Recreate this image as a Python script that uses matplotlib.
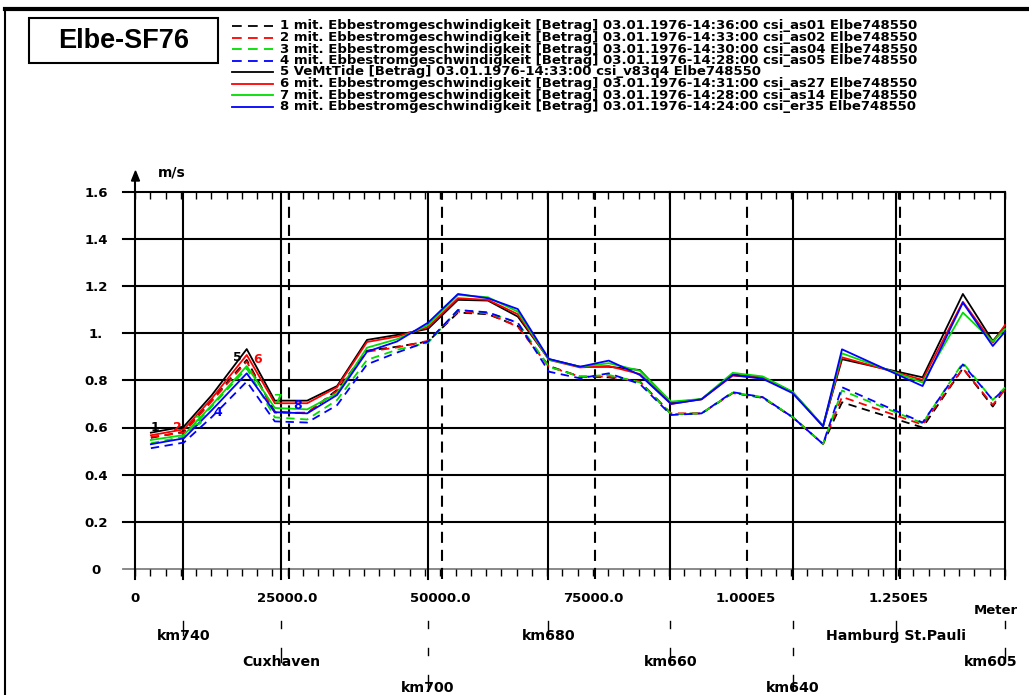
import numpy as np
import matplotlib
matplotlib.use("Agg")
import matplotlib.pyplot as plt
import matplotlib.transforms as mtransforms
from matplotlib.lines import Line2D
from matplotlib.patches import Rectangle, Polygon

plt.rcParams["font.family"] = ["DejaVu Sans"]
plt.rcParams["font.weight"] = "bold"
plt.rcParams["lines.scale_dashes"] = False

# Stationen entlang der Elbe (Meter)
x_m = [2600, 8000, 12600, 18300, 22900, 28200, 33100, 38000, 42900, 48000,
       52900, 57800, 62700, 67800, 72900, 77600, 82700, 87800, 92800, 97900,
       102800, 107700, 112700, 115800, 129000, 135600, 140500, 142500]

# Ebbestromgeschwindigkeit [m/s]
s1 = [0.556, 0.582, 0.717, 0.887, 0.667, 0.660, 0.760, 0.926, 0.943, 0.965,
      1.088, 1.081, 1.031, 0.861, 0.816, 0.813, 0.795, 0.657, 0.660, 0.747,
      0.726, 0.644, 0.530, 0.707, 0.600, 0.851, 0.689, 0.765]
s2 = [0.560, 0.578, 0.712, 0.880, 0.663, 0.663, 0.755, 0.922, 0.940, 0.968,
      1.092, 1.084, 1.028, 0.858, 0.816, 0.816, 0.795, 0.660, 0.660, 0.746,
      0.728, 0.644, 0.530, 0.730, 0.612, 0.851, 0.696, 0.762]
s3 = [0.533, 0.561, 0.690, 0.851, 0.643, 0.634, 0.717, 0.887, 0.930, 0.960,
      1.099, 1.087, 1.045, 0.858, 0.816, 0.823, 0.792, 0.657, 0.660, 0.748,
      0.729, 0.645, 0.530, 0.757, 0.618, 0.875, 0.717, 0.770]
s4 = [0.512, 0.536, 0.645, 0.795, 0.626, 0.621, 0.695, 0.868, 0.918, 0.965,
      1.099, 1.089, 1.045, 0.837, 0.809, 0.830, 0.785, 0.653, 0.660, 0.750,
      0.729, 0.644, 0.530, 0.771, 0.621, 0.868, 0.717, 0.765]
s5 = [0.578, 0.604, 0.738, 0.933, 0.714, 0.714, 0.776, 0.972, 0.993, 1.019,
      1.142, 1.139, 1.071, 0.890, 0.858, 0.858, 0.844, 0.706, 0.720, 0.825,
      0.814, 0.750, 0.606, 0.890, 0.813, 1.167, 0.967, 1.030]
s6 = [0.567, 0.592, 0.724, 0.908, 0.703, 0.703, 0.771, 0.963, 0.986, 1.026,
      1.149, 1.142, 1.081, 0.887, 0.855, 0.861, 0.827, 0.700, 0.720, 0.820,
      0.811, 0.750, 0.606, 0.898, 0.802, 1.134, 0.960, 1.035]
s7 = [0.547, 0.568, 0.696, 0.861, 0.683, 0.677, 0.745, 0.939, 0.975, 1.035,
      1.163, 1.153, 1.092, 0.888, 0.858, 0.873, 0.841, 0.710, 0.721, 0.832,
      0.817, 0.752, 0.607, 0.915, 0.791, 1.088, 0.965, 1.018]
s8 = [0.529, 0.554, 0.674, 0.830, 0.665, 0.660, 0.738, 0.922, 0.965, 1.045,
      1.167, 1.149, 1.103, 0.891, 0.858, 0.884, 0.823, 0.700, 0.720, 0.823,
      0.807, 0.746, 0.605, 0.932, 0.776, 1.130, 0.946, 1.007]
series = [s1, s2, s3, s4, s5, s6, s7, s8]

labels = [
    "1 mit. Ebbestromgeschwindigkeit [Betrag] 03.01.1976-14:36:00 csi_as01 Elbe748550",
    "2 mit. Ebbestromgeschwindigkeit [Betrag] 03.01.1976-14:33:00 csi_as02 Elbe748550",
    "3 mit. Ebbestromgeschwindigkeit [Betrag] 03.01.1976-14:30:00 csi_as04 Elbe748550",
    "4 mit. Ebbestromgeschwindigkeit [Betrag] 03.01.1976-14:28:00 csi_as05 Elbe748550",
    "5 VeMtTide [Betrag] 03.01.1976-14:33:00 csi_v83q4 Elbe748550",
    "6 mit. Ebbestromgeschwindigkeit [Betrag] 03.01.1976-14:31:00 csi_as27 Elbe748550",
    "7 mit. Ebbestromgeschwindigkeit [Betrag] 03.01.1976-14:28:00 csi_as14 Elbe748550",
    "8 mit. Ebbestromgeschwindigkeit [Betrag] 03.01.1976-14:24:00 csi_er35 Elbe748550",
]
colors = ["black", "red", "#00dd00", "blue", "black", "red", "#00dd00", "blue"]
dashed = [True, True, True, True, False, False, False, False]

# Kennzahlen an den Kurven
num_x = [3300, 6900, 10200, 13600, 16700, 20100, 23400, 26700]
num_y = [0.602, 0.602, 0.624, 0.662, 0.899, 0.890, 0.721, 0.692]

# Orte / Flusskilometer
loc_names = ["km740", "Cuxhaven", "km700", "km680", "km660", "km640",
             "Hamburg St.Pauli", "km605"]
loc_x = [7900, 23900, 48000, 67700, 87700, 107700, 124700, 142500]
loc_row = [1, 2, 3, 1, 2, 3, 1, 2]

xt = [0, 25000, 50000, 75000, 100000, 125000]
xt_labels = ["0", "25000.0", "50000.0", "75000.0", "1.000E5", "1.250E5"]
yt = [0, 0.2, 0.4, 0.6, 0.8, 1.0, 1.2, 1.4, 1.6]
yt_labels = ["0", "0.2", "0.4", "0.6", "0.8", "1.", "1.2", "1.4", "1.6"]

W, H = 1029, 695
fig = plt.figure(figsize=(W / 100, H / 100), dpi=100)


def fx(px):
    return px / W


def fy(py):
    return 1 - py / H


x0, x1, ytop, ybot = 135, 1005, 192, 568.8
ax = fig.add_axes([fx(x0), fy(ybot), (x1 - x0) / W, (ybot - ytop) / H])
ax.set_xlim(0, 142500)
ax.set_ylim(0, 1.6)
for sp in ax.spines.values():
    sp.set_visible(False)
ax.patch.set_visible(False)

aw, ah = x1 - x0, ybot - ytop
left_ext = -12 / aw
below = -10 / ah

# Gitter
for y in yt[1:]:
    ax.axhline(y, xmin=left_ext, xmax=1.0, color="black", lw=1.5,
               clip_on=False, zorder=1)
ax.axhline(0, xmin=left_ext, xmax=1.0, color="#808080", lw=1.3,
           clip_on=False, zorder=1)
for x in loc_x:
    ax.axvline(x, ymin=below, ymax=1, color="black", lw=1.5,
               clip_on=False, zorder=1)
for x in xt[1:]:
    ax.axvline(x + 300, ymin=below, ymax=1, color="black", lw=1.5,
               ls=(0, (8, 5)), clip_on=False, zorder=1)

# y-Achse mit Pfeil
ax.axvline(0, ymin=below, ymax=1 + (ytop - 181) / ah, color="black", lw=1.5,
           clip_on=False)
fig.add_artist(Polygon([[fx(135.5), fy(171)], [fx(131.5), fy(181)],
                        [fx(139.5), fy(181)]], closed=True,
                       transform=fig.transFigure, color="black"))
fig.text(fx(158), fy(173), "m/s", fontsize=10, ha="left", va="center")

# Ticks
ax.set_xticks(xt, xt_labels)
ax.set_xticks(np.arange(0, 142501, 2500), minor=True)
ax.tick_params(axis="x", which="both", direction="out", length=5, width=1,
               labelsize=9.5, pad=12)
sec = ax.secondary_xaxis("top")
sec.set_xticks(np.arange(0, 142501, 2500), [""] * 58)
sec.tick_params(axis="x", direction="in", length=5, width=1)
sec.spines["top"].set_visible(False)
ax.set_yticks(yt, yt_labels)
ax.tick_params(axis="y", length=0, pad=28, labelsize=9.5)
for lab in ax.get_yticklabels():
    lab.set_ha("center")

# Kurven
for vals, c, d in zip(series, colors, dashed):
    ax.plot(x_m, vals, color=c, lw=1.3, ls=(0, (6, 4)) if d else "-",
            clip_on=False, zorder=3)
for i in range(8):
    ax.text(num_x[i], num_y[i], str(i + 1), color=colors[i], fontsize=9,
            ha="center", va="center", zorder=4)

# Ortsangaben
trans_xf = mtransforms.blended_transform_factory(ax.transData, fig.transFigure)
for name, x, r in zip(loc_names, loc_x, loc_row):
    for k in range(r):
        ya = 621 + 27 * k
        yb = ya + (14 if k == r - 1 else 7)
        ax.plot([x, x], [fy(ya), fy(yb)], color="black", lw=1,
                transform=trans_xf, clip_on=False)
    dx = -10 if name == "km605" else 0
    ax.annotate(name, xy=(x, fy(636 + 26 * (r - 1))),
                xycoords=("data", "figure fraction"),
                xytext=(dx, 0), textcoords="offset points",
                ha="center", va="center", fontsize=10.2, annotation_clip=False)
fig.text(fx(1018), fy(610), "Meter", fontsize=9.5, ha="right", va="center")

# Titel und Legende
fig.add_artist(Rectangle((fx(29), fy(62.7)), (218 - 29) / W, (62.7 - 18.3) / H,
                         fill=False, lw=1.5, color="black",
                         transform=fig.transFigure))
fig.text(fx(123.5), fy(41), "Elbe-SF76", fontsize=19.5, ha="center",
         va="center", family="Liberation Sans")
for i in range(8):
    yy = 26 + i * 11.5
    fig.add_artist(Line2D([fx(232), fx(273)], [fy(yy), fy(yy)], color=colors[i],
                          lw=1.3, ls=(0, (7, 4.5)) if dashed[i] else "-",
                          transform=fig.transFigure))
    fig.text(fx(280), fy(yy), labels[i], fontsize=9.5, ha="left", va="center")

# Rahmen
fig.add_artist(Line2D([fx(5), fx(5)], [fy(9), 0], color="black", lw=1.5,
                      transform=fig.transFigure))
fig.add_artist(Line2D([fx(5), 1], [fy(9), fy(9)], color="black", lw=3,
                      transform=fig.transFigure))

fig.savefig("out.png", dpi=100)
